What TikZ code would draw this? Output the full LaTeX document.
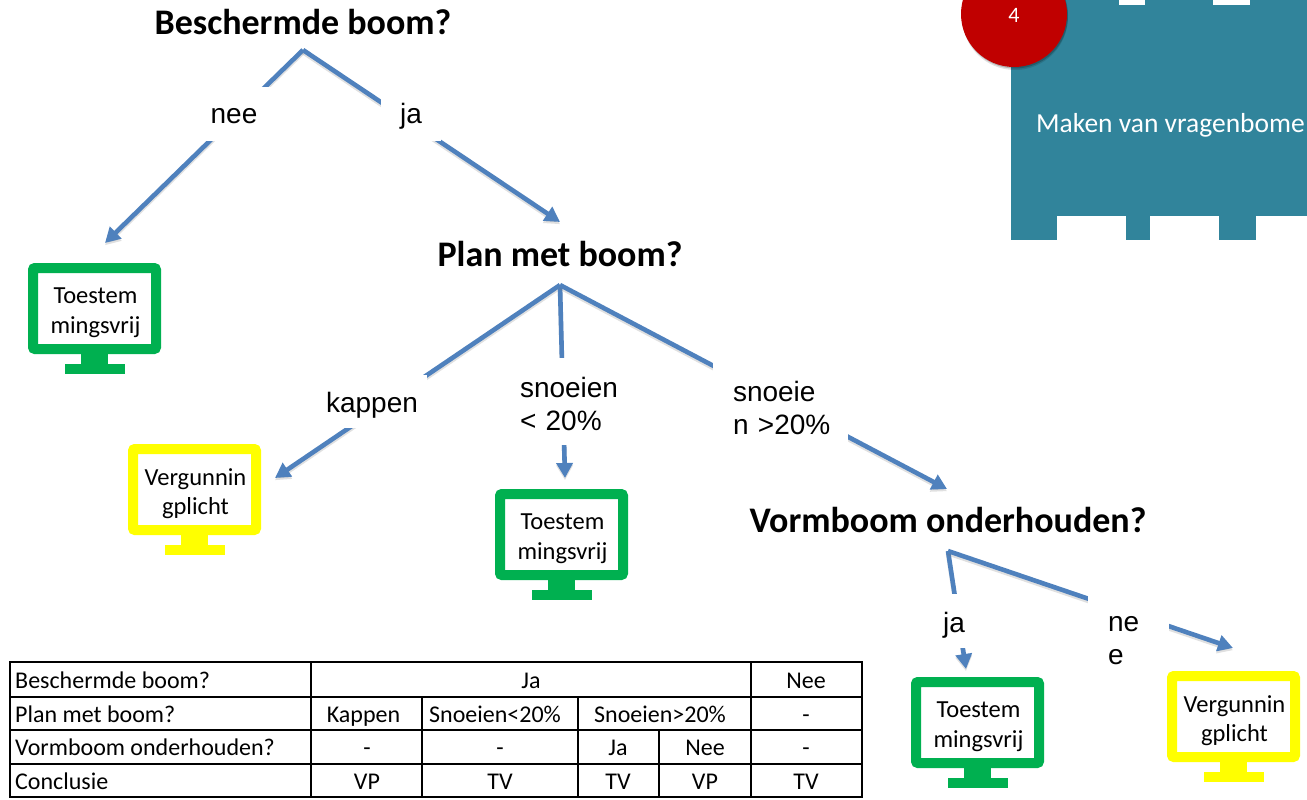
\documentclass[tikz,border=0pt]{standalone}
\usepackage{fontspec}
\setmainfont{Carlito}
\newfontfamily\arialf{Liberation Sans}
\usetikzlibrary{arrows.meta,shadows,calc}
\definecolor{arrowblue}{HTML}{4F81BD}
\definecolor{teal}{HTML}{31849B}
\definecolor{badgered}{HTML}{C00000}
\definecolor{mongreen}{HTML}{00B050}
\definecolor{monyellow}{HTML}{FFFF00}
\tikzset{
  title/.style={font=\fontsize{36}{38}\selectfont\bfseries,inner sep=0pt,outer sep=0pt,text=black},
  branch/.style={draw=arrowblue,line width=4.6pt,-{Triangle[length=15pt,width=16pt]},
    preaction={draw=black!55,draw opacity=.22,fill opacity=.22,line width=4.6pt,transform canvas={yshift=-2.2pt}}},
  lbl/.style={fill=white,inner ysep=0pt,inner xsep=0pt,outer sep=0pt,align=left,
    font=\arialf\fontsize{28}{33}\selectfont,text=black,anchor=north west},
  cell/.style={font=\fontsize{24}{26}\selectfont,inner sep=0pt,text=black,text height=19pt,text depth=2pt},
  rowhead/.style={cell,anchor=west},
  tabrule/.style={draw=black,line width=1.6pt,line cap=rect},
  tabsep/.style={draw=black,line width=1.2pt},
  monitor/.style={rectangle,rounded corners=2pt,line width=10pt,fill=white,inner sep=0pt,outer sep=0pt},
  montext/.style={inner sep=0pt,align=center,text=black,font=\fontsize{24.5}{29.5}\selectfont},
}
% #1 name, #2 left, #3 top, #4 colour, #5 text
\newcommand{\screen}[5]{%
  \node[monitor,draw=#4,minimum width=123pt,minimum height=81pt] (#1) at (#2+66.5,#3+45.5) {};
  \fill[#4] ($(#1.south)+(-13.5pt,-5pt)$) rectangle ($(#1.south)+(13.5pt,-15pt)$);
  \fill[#4] ($(#1.south)+(-30pt,-15pt)$) rectangle ($(#1.south)+(30pt,-25pt)$);
  \node[montext] (#1text) at ($(#1.center)+(1pt,-4pt)$) {#5};
}
\begin{document}
\begin{tikzpicture}[x=1pt,y=-1pt]
\useasboundingbox (0,0) rectangle (1307,800);
% teal panel
\fill[teal] (1011,0) rectangle (1307,240);
\fill[white] (1119,0) rectangle (1145,5);
\fill[white] (1213,0) rectangle (1250,5);
\fill[white] (1057,216) rectangle (1126,240);
\fill[white] (1150,216) rectangle (1219,240);
\fill[white] (1256,216) rectangle (1307,240);
\node[anchor=base west,inner sep=0pt,text=white,font=\fontsize{27.5}{30}\selectfont] (paneltext) at (1036,132) {Maken van vragenbome};
\node[circle,fill=badgered,minimum size=106pt,inner sep=0pt,
  drop shadow={shadow xshift=1pt,shadow yshift=-3pt,opacity=.12,fill=black},
  drop shadow={shadow xshift=1pt,shadow yshift=-1.5pt,opacity=.2,fill=black}] (badge) at (1014,14) {};
\node[text=white,inner sep=0pt,font=\fontsize{22}{24}\selectfont] (badgetext) at (1014,15) {4};
% titles: south anchor is the apex of each tree
\node[title,minimum height=56pt,minimum width=296pt] (t1) at (303,22) {Beschermde boom?};
\node[title,minimum height=62pt,minimum width=243pt] (t2) at (560,254) {Plan met boom?};
\node[title,minimum height=62pt,minimum width=398pt] (t3) at (948,520) {Vormboom onderhouden?};
% free ends
\coordinate (e1) at (105,243);
\coordinate (e2) at (560,222);
\coordinate (e3) at (275,478);
\coordinate (e4) at (565,478);
\coordinate (e5) at (947,489);
\coordinate (e6) at (966,669);
\coordinate (e7) at (1233,648);
% connectors
\draw[branch] (t1.south) -- (e1);
\draw[branch] (t1.south) -- (e2);
\draw[branch] (t2.south) -- (e3);
\draw[branch] (t2.south) -- (e4);
\draw[branch] (t2.south) -- (e5);
\draw[branch] (t3.south) -- (e6);
\draw[branch] (t3.south) -- (e7);
% labels (white boxes interrupt the lines)
\node[lbl,text width=90pt,text height=36pt,text depth=18pt,align=center] (l1) at (189,87) {nee};
\node[lbl,text width=60pt,text height=36pt,text depth=18pt,align=center] (l2) at (381,87) {ja};
\node[lbl,text width=110pt,text height=37pt,text depth=16pt,align=center] (l3) at (317,375) {kappen};
\node[lbl,text width=100pt] (l4) at (520,358) {\rule{0pt}{39pt}snoeien\\\rule[-15pt]{0pt}{15pt}< 20\%};
\node[lbl,text width=115pt] (l5) at (733,358) {\rule{0pt}{43pt}snoeie\\\rule[-18pt]{0pt}{18pt}n >20\%};
\fill[white] (713,358) rectangle (733,452);
\node[lbl,text width=60pt,text height=38pt,text depth=16pt,align=center] (l6) at (924,594) {ja};
\node[lbl,text width=61pt] (l7) at (1108,600) {\rule{0pt}{31pt}ne\\\rule[-14pt]{0pt}{14pt}e};
\fill[white] (1088,590) rectangle (1108,678);
% monitors
\screen{m1}{28}{263}{mongreen}{Toestem\\mingsvrij}
\screen{m2}{128}{444}{monyellow}{Vergunnin\\gplicht}
\screen{m3}{495}{489}{mongreen}{Toestem\\mingsvrij}
\screen{m4}{911}{677}{mongreen}{Toestem\\mingsvrij}
\screen{m5}{1167}{671}{monyellow}{Vergunnin\\gplicht}
% table
\draw[tabrule] (10,662) rectangle (862,797);
\foreach \yy in {697,730,764} \draw[tabrule] (10,\yy) -- (862,\yy);
\draw[tabsep] (311,662) -- (311,797);
\draw[tabsep] (751,662) -- (751,797);
\draw[tabsep] (422,697) -- (422,797);
\draw[tabsep] (578,697) -- (578,797);
\draw[tabrule] (659,730) -- (659,797);
\node[rowhead] (r1) at (15,680) {Beschermde boom?};
\node[rowhead] (r2) at (15,714) {Plan met boom?};
\node[rowhead] (r3) at (15,747) {Vormboom onderhouden?};
\node[rowhead] (r4) at (15,781) {Conclusie};
\node[cell] (c11) at (531,680) {Ja};
\node[cell] (c12) at (806,680) {Nee};
\node[cell] (c21) at (363.5,714) {Kappen};
\node[cell] (c22) at (495,714) {Snoeien<20\%};
\node[cell] (c23) at (660,714) {Snoeien>20\%};
\node[cell] (c24) at (806,714) {-};
\node[cell] (c31) at (367,747) {-};
\node[cell] (c32) at (500,747) {-};
\node[cell] (c33) at (618,747) {Ja};
\node[cell] (c34) at (705,747) {Nee};
\node[cell] (c35) at (806,747) {-};
\node[cell] (c41) at (367,781) {VP};
\node[cell] (c42) at (500,781) {TV};
\node[cell] (c43) at (618,781) {TV};
\node[cell] (c44) at (705,781) {VP};
\node[cell] (c45) at (806,781) {TV};
\end{tikzpicture}
\end{document}
